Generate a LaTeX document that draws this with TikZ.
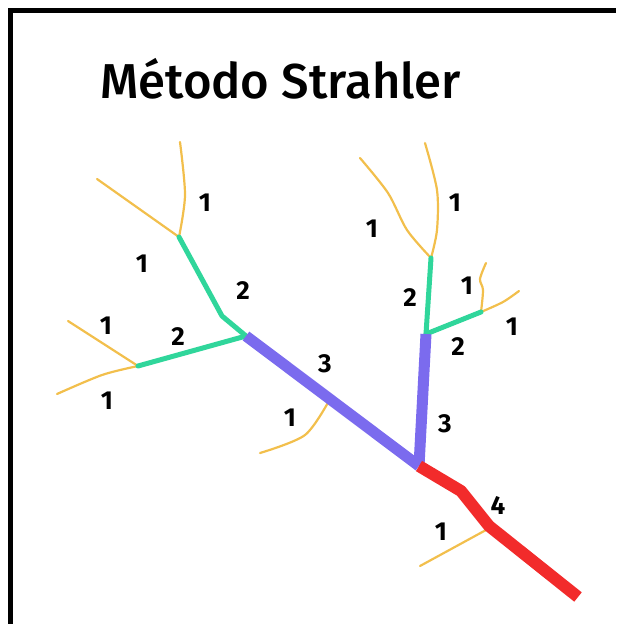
\documentclass[tikz,border=0pt]{standalone}
\usepackage{fontspec}
\setmainfont{Fira Sans}
\newfontfamily\titlefont{Fira Sans Medium}
\usetikzlibrary{positioning}
\definecolor{streamone}{HTML}{F2BF4C}
\definecolor{streamtwo}{HTML}{30D69B}
\definecolor{streamthree}{HTML}{7B6BEE}
\definecolor{streamfour}{HTML}{F22B2B}
\tikzset{
  ordone/.style={draw=streamone, line width=2.2pt, line cap=round, line join=round},
  ordtwo/.style={draw=streamtwo, line width=5pt, line cap=round, line join=round},
  ordthree/.style={draw=streamthree, line width=11pt, line join=round},
  ordfour/.style={draw=streamfour, line width=12pt, line join=round},
  lbl/.style={font=\bfseries\fontsize{26}{26}\selectfont, inner sep=0pt},
  titletext/.style={font=\titlefont\fontsize{49}{51}\selectfont, inner sep=0pt, anchor=base west}
}

\begin{document}
\begin{tikzpicture}[x=1pt,y=-1pt]
  \useasboundingbox (0,0) rectangle (616,624);
  \draw[line width=5pt] (10.5,624) -- (10.5,10.5) -- (616,10.5);
  \node[titletext] (title) at (100,98) {Método Strahler};

  % junctions
  \coordinate (A) at (179,237);
  \coordinate (Ab) at (222,316);
  \coordinate (B) at (246,336);
  \coordinate (C) at (138,366);
  \coordinate (D) at (419,466);
  \coordinate (E) at (426,334);
  \coordinate (F) at (431,258);
  \coordinate (G) at (481,312);
  \coordinate (Tp) at (330,399);
  \coordinate (R1) at (461,491);
  \coordinate (R2) at (489,526);
  \coordinate (Tr) at (486,530);
  \coordinate (mouth) at (578,597);

  % order 1 streams
  \draw[ordone] (A) -- (97,179);
  \draw[ordone] plot[smooth] coordinates {(A) (185,195) (180,142)};
  \draw[ordone] (C) -- (68,321);
  \draw[ordone] plot[smooth] coordinates {(C) (102,375) (57,394)};
  \draw[ordone] plot[smooth] coordinates {(Tp) (305,435) (260,453)};
  \draw[ordone] plot[smooth] coordinates {(F) (407,230) (388,193) (360,158)};
  \draw[ordone] plot[smooth] coordinates {(F) (437,230) (437,190) (425,143)};
  \draw[ordone] plot[smooth] coordinates {(G) (483,290) (480,279) (486,263)};
  \draw[ordone] plot[smooth] coordinates {(G) (503,302) (519,291)};
  \draw[ordone] (Tr) -- (420,566);

  % order 2
  \draw[ordtwo] (A) -- (Ab) -- (B);
  \draw[ordtwo] (B) -- (C);
  \draw[ordtwo] (E) -- (F);
  \draw[ordtwo] (E) -- (G);

  % order 3
  \draw[ordthree] (B) -- (D);
  \draw[ordthree] (E) -- (D);

  % order 4
  \draw[ordfour] (D) -- (R1) -- (R2) -- (mouth);

  % labels
  \node[lbl] (n1) at (205,203) {1};
  \node[lbl] (n2) at (142,264) {1};
  \node[lbl] (n3) at (243,291) {2};
  \node[lbl] (n4) at (106,326) {1};
  \node[lbl] (n5) at (178,337) {2};
  \node[lbl] (n6) at (107,401) {1};
  \node[lbl] (n7) at (325,364) {3};
  \node[lbl] (n8) at (290,418) {1};
  \node[lbl] (n9) at (455,203) {1};
  \node[lbl] (n10) at (372,229) {1};
  \node[lbl] (n11) at (410,298) {2};
  \node[lbl] (n12) at (467,286) {1};
  \node[lbl] (n13) at (512,327) {1};
  \node[lbl] (n14) at (458,347) {2};
  \node[lbl] (n15) at (445,424) {3};
  \node[lbl] (n16) at (498,505) {4};
  \node[lbl] (n17) at (441,532) {1};
\end{tikzpicture}
\end{document}
